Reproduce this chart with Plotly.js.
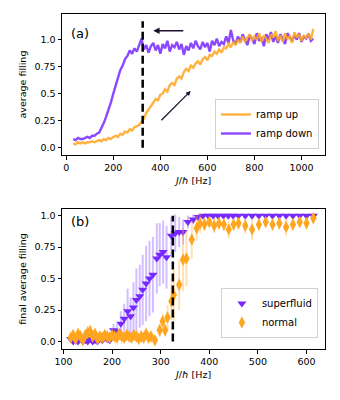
<!DOCTYPE html>
<html>
<head>
<meta charset="utf-8">
<script src="https://cdn.plot.ly/plotly-3.0.1.min.js"></script>
<style>
  html, body { margin: 0; padding: 0; background: #fff; }
  #chart { width: 340px; height: 400px; }
</style>
</head>
<body>
<div id="chart"></div>
<script>
// panel (a): ramp up / ramp down, J/hbar in Hz
const rampX = [30,40,50,60,70,80,90,100,110,120,130,140,150,160,170,180,190,200,210,220,
  230,240,250,260,270,280,290,300,310,320,330,340,350,360,370,380,390,400,410,420,
  430,440,450,460,470,480,490,500,510,520,530,540,550,560,570,580,590,600,610,620,
  630,640,650,660,670,680,690,700,710,720,730,740,750,760,770,780,790,800,810,820,
  830,840,850,860,870,880,890,900,910,920,930,940,950,960,970,980,990,1000,1010,1020,
  1030,1040,1050];
const rampUp = [0.04,0.03,0.05,0.04,0.05,0.04,0.05,0.05,0.06,0.05,0.06,0.07,0.06,0.08,0.07,0.09,0.08,0.10,0.11,0.10,
  0.13,0.12,0.15,0.14,0.17,0.16,0.19,0.20,0.21,0.24,0.27,0.32,0.35,0.39,0.41,0.45,0.44,0.49,0.50,0.54,
  0.52,0.58,0.60,0.58,0.64,0.66,0.64,0.70,0.73,0.71,0.76,0.74,0.78,0.80,0.77,0.82,0.84,0.81,0.86,0.85,
  0.89,0.87,0.91,0.88,0.93,0.92,0.96,0.93,0.98,0.95,1.00,0.97,1.03,0.98,1.02,1.05,0.99,1.03,1.00,1.06,
  0.98,1.04,1.01,0.97,1.05,1.02,1.08,0.99,1.04,0.98,1.06,1.01,1.03,0.97,1.07,1.02,1.05,0.99,1.04,1.01,
  1.06,1.00,1.10];
const rampDown = [0.08,0.07,0.09,0.08,0.08,0.09,0.10,0.09,0.11,0.11,0.13,0.14,0.18,0.23,0.29,0.35,0.42,0.50,0.58,0.65,
  0.72,0.76,0.82,0.85,0.90,0.87,0.92,0.89,0.96,1.01,0.91,0.95,0.88,0.94,0.97,0.90,0.95,0.87,0.96,0.92,
  0.99,0.89,0.95,0.93,0.98,0.91,0.96,0.86,0.94,0.90,0.97,0.92,0.99,0.94,0.91,0.98,0.93,0.97,0.89,0.99,
  0.95,1.01,0.94,0.98,0.96,1.03,0.97,1.09,0.99,0.96,1.03,0.98,1.05,1.00,0.95,1.04,1.01,0.96,1.06,0.99,
  1.02,0.94,1.05,1.00,1.07,0.98,1.03,0.97,1.05,1.01,0.96,1.06,1.02,0.99,1.04,1.00,1.06,0.98,1.03,1.01,
  1.05,0.99,1.01];

// panel (b): final average filling
const sfX = [115,120,125,130,135,140,145,150,155,160,165,170,175,180,185,190,195,
  203,210,218,225,232,238,244,250,257,263,270,277,284,292,298,305,312,322,330,338,346,356,367,377,
  387,398,408,418,429,439,449,460,474,488,502,516,530,544,558,572,586,600,614];
const sfY = [0.02,0.00,0.01,0.00,0.02,0.00,0.01,0.00,0.02,0.00,0.01,0.00,0.02,0.01,0.03,0.02,0.01,
  0.09,0.08,0.14,0.18,0.24,0.20,0.27,0.33,0.36,0.41,0.46,0.50,0.53,0.66,0.69,0.71,0.67,0.84,0.86,0.87,0.87,0.95,0.97,0.99,
  1.00,1.00,1.00,1.00,1.00,1.00,1.00,1.00,1.00,1.00,1.00,1.00,1.00,1.00,1.00,1.00,1.00,1.00,1.00];
const sfErr = [0.02,0.02,0.02,0.02,0.02,0.02,0.02,0.02,0.02,0.02,0.02,0.02,0.02,0.02,0.03,0.03,0.03,
  0.05,0.06,0.10,0.12,0.18,0.15,0.20,0.25,0.25,0.28,0.30,0.30,0.30,0.28,0.25,0.25,0.25,0.15,0.15,0.12,0.10,0.05,0.04,0.02,
  0.01,0.01,0.01,0.01,0.01,0.01,0.01,0.01,0.01,0.01,0.01,0.01,0.01,0.01,0.01,0.01,0.01,0.01,0.01];

const nmX = [115,120,125,130,135,140,145,150,155,160,165,170,175,180,185,190,195,200,205,210,
  215,220,225,230,235,240,245,250,255,260,265,270,275,280,
  288,298,304,309,314,322,327,338,346,353,364,374,381,
  390,400,410,420,430,440,450,460,474,488,502,516,530,544,558,572,586,600,614];
const nmY = [0.03,0.05,0.02,0.06,0.04,0.01,0.05,0.07,0.08,0.04,0.06,0.02,0.04,0.03,0.05,0.04,0.03,0.05,0.04,0.03,
  0.06,0.04,0.03,0.05,0.04,0.03,0.05,0.04,0.02,0.04,0.03,0.06,0.03,0.04,
  0.01,0.09,0.16,0.09,0.19,0.32,0.37,0.45,0.65,0.66,0.81,0.90,0.94,
  0.93,0.95,0.92,0.94,0.93,0.89,0.93,0.94,0.92,0.89,0.93,0.95,0.93,0.94,0.91,0.93,0.95,0.94,0.98];
const nmErr = [0.03,0.03,0.03,0.04,0.03,0.03,0.04,0.05,0.05,0.04,0.03,0.03,0.04,0.03,0.04,0.03,0.03,0.03,0.03,0.03,
  0.04,0.03,0.03,0.03,0.03,0.03,0.03,0.03,0.03,0.03,0.03,0.03,0.03,0.03,
  0.03,0.05,0.06,0.05,0.10,0.15,0.20,0.20,0.25,0.22,0.15,0.10,0.08,
  0.05,0.04,0.06,0.05,0.05,0.07,0.05,0.05,0.06,0.08,0.05,0.04,0.05,0.05,0.07,0.05,0.04,0.05,0.03];

const ORANGE = '#ffa51f';
const PURPLE = '#7728ff';
const FONT = 'DejaVu Sans, sans-serif';

const traces = [
  { x: rampX, y: rampDown, mode: 'lines', name: 'ramp down', xaxis: 'x', yaxis: 'y',
    line: { color: PURPLE, width: 2.4 }, opacity: 0.85, legend: 'legend' },
  { x: rampX, y: rampUp, mode: 'lines', name: 'ramp up', xaxis: 'x', yaxis: 'y',
    line: { color: ORANGE, width: 2.4 }, opacity: 0.85, legend: 'legend' },
  { x: sfX, y: sfY, mode: 'markers', name: 'superfluid', xaxis: 'x2', yaxis: 'y2',
    marker: { symbol: 'triangle-down', size: 8, color: PURPLE },
    error_y: { type: 'data', array: sfErr, visible: true, color: 'rgba(130,70,255,0.35)', thickness: 2, width: 0 },
    legend: 'legend2' },
  { x: nmX, y: nmY, mode: 'markers', name: 'normal', xaxis: 'x2', yaxis: 'y2',
    marker: { symbol: 'diamond-tall', size: 9, color: ORANGE },
    error_y: { type: 'data', array: nmErr, visible: true, color: 'rgba(255,170,50,0.35)', thickness: 2, width: 0 },
    legend: 'legend2' }
];

const axisBase = {
  showline: true, mirror: true, linecolor: '#000', linewidth: 1,
  ticks: 'outside', ticklen: 3.5, tickwidth: 1, tickcolor: '#000',
  showgrid: false, zeroline: false,
  tickfont: { family: FONT, size: 9.5, color: '#000' }
};
const yTicks = { tickvals: [0, 0.25, 0.5, 0.75, 1.0], ticktext: ['0.0', '0.25', '0.5', '0.75', '1.0'] };
const xTitle = { text: '<i>J</i>/<i>ħ</i> [Hz]', font: { family: FONT, size: 9.5, color: '#000' }, standoff: 5 };

const layout = {
  width: 340, height: 400,
  margin: { l: 62, r: 15, t: 14, b: 51 },
  paper_bgcolor: '#fff', plot_bgcolor: '#fff',
  font: { family: FONT, size: 9.5, color: '#000' },
  xaxis: Object.assign({}, axisBase, { domain: [0, 1], anchor: 'y', range: [-18, 1100],
    tickvals: [0, 200, 400, 600, 800, 1000], title: xTitle }),
  yaxis: Object.assign({}, axisBase, yTicks, { domain: [0.579, 1], anchor: 'x', range: [-0.068, 1.238],
    title: { text: 'average filling', font: { family: FONT, size: 9.5, color: '#000' }, standoff: 6 } }),
  xaxis2: Object.assign({}, axisBase, { domain: [0, 1], anchor: 'y2', range: [97, 638],
    tickvals: [100, 200, 300, 400, 500, 600], title: xTitle }),
  yaxis2: Object.assign({}, axisBase, yTicks, { domain: [0, 0.418], anchor: 'x2', range: [-0.06, 1.053],
    title: { text: 'final average filling', font: { family: FONT, size: 9.5, color: '#000' }, standoff: 6 } }),
  legend: { x: 0.977, y: 0.597, xanchor: 'right', yanchor: 'bottom', traceorder: 'reversed',
    bgcolor: 'rgba(255,255,255,0.8)', bordercolor: '#d0d0d0', borderwidth: 1,
    font: { family: FONT, size: 10, color: '#000' }, itemwidth: 30, tracegroupgap: 0 },
  legend2: { x: 0.973, y: 0.033, xanchor: 'right', yanchor: 'bottom',
    bgcolor: 'rgba(255,255,255,0.8)', bordercolor: '#d0d0d0', borderwidth: 1,
    font: { family: FONT, size: 10, color: '#000' }, itemwidth: 30 },
  shapes: [
    { type: 'line', xref: 'x', yref: 'y', x0: 325, x1: 325, y0: 0, y1: 1.17,
      line: { color: '#000', width: 2.5, dash: '8px,4px' } },
    { type: 'line', xref: 'x2', yref: 'y2', x0: 325, x1: 325, y0: 0, y1: 1.0,
      line: { color: '#000', width: 2.5, dash: '8px,4px' } }
  ],
  annotations: [
    { text: '(a)', xref: 'x domain', yref: 'y domain', x: 0.025, y: 0.865, xanchor: 'left', yanchor: 'middle',
      showarrow: false, font: { family: FONT, size: 13, color: '#000' } },
    { text: '(b)', xref: 'x2 domain', yref: 'y2 domain', x: 0.025, y: 0.91, xanchor: 'left', yanchor: 'middle',
      showarrow: false, font: { family: FONT, size: 13, color: '#000' } },
    { text: '', xref: 'x', yref: 'y', axref: 'x', ayref: 'y', x: 370, y: 1.083, ax: 504, ay: 1.083,
      showarrow: true, arrowhead: 2, arrowsize: 0.9, arrowwidth: 1.4, arrowcolor: '#1e0f2d' },
    { text: '', xref: 'x', yref: 'y', axref: 'x', ayref: 'y', x: 529, y: 0.525, ax: 398, ay: 0.24,
      showarrow: true, arrowhead: 2, arrowsize: 0.8, arrowwidth: 1.2, arrowcolor: '#1e0f2d' }
  ]
};

Plotly.newPlot('chart', traces, layout, { displayModeBar: false, staticPlot: true });
</script>
</body>
</html>
